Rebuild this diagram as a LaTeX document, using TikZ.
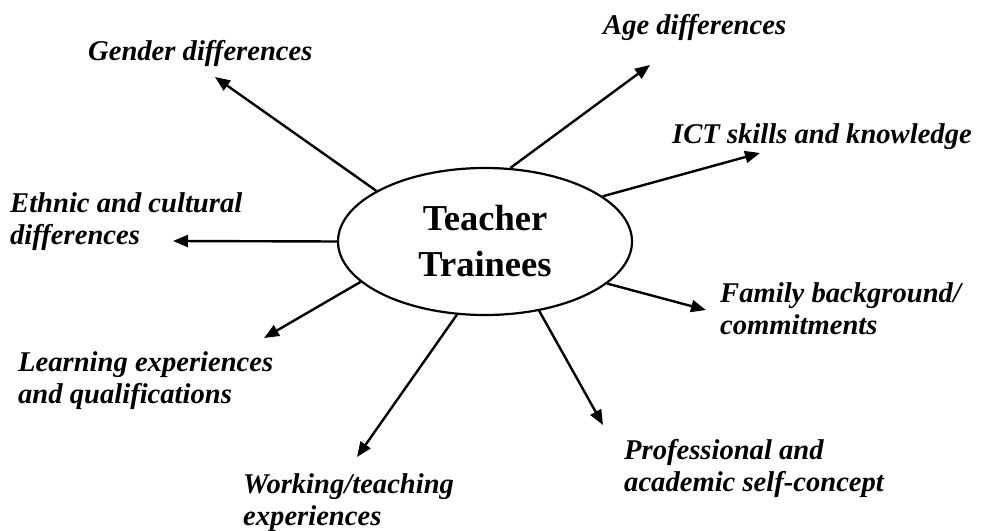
\documentclass[tikz,border=0pt]{standalone}
\usepackage{fontspec}
\setmainfont{Liberation Serif}
\usetikzlibrary{shapes.geometric}
\usetikzlibrary{arrows.meta}

\tikzset{
  factor/.style={inner sep=0pt,anchor=base west,align=left,
    font=\fontsize{28.6bp}{32bp}\selectfont\bfseries\itshape},
  spoke/.style={line width=2.4bp,-{Triangle[length=15bp,width=12bp]}}
}

\begin{document}
\begin{tikzpicture}[x=1bp,y=-1bp]
\useasboundingbox (0,0) rectangle (992,531);

% Teacher Trainees
\node[ellipse,draw,line width=2.2bp,minimum width=294bp,minimum height=147bp,
  align=center,font=\fontsize{36.5bp}{46bp}\selectfont\bfseries] (tt) at (485,241.5) {Teacher\\Trainees};

% labels (base = last line)
\node[factor] (gender) at (88,61) {Gender differences};
\node[factor] (age) at (603,35) {Age differences};
\node[factor] (ict) at (672,144) {ICT skills and knowledge};
\node[factor] (ethnic) at (10,245) {Ethnic and cultural\\differences};
\node[factor] (family) at (720,335) {Family background/\\commitments};
\node[factor] (learning) at (18,403) {Learning experiences\\and qualifications};
\node[factor] (prof) at (624,491) {Professional and\\academic self-concept};
\node[factor] (work) at (243,525) {Working/teaching\\experiences};

% arrow tips
\coordinate (cgender) at (215,77);
\coordinate (cage) at (650,65);
\coordinate (cict) at (760,153);
\coordinate (cethnic) at (173,241);
\coordinate (clearning) at (264,338);
\coordinate (cwork) at (357,457);
\coordinate (cprof) at (603,425);
\coordinate (cfamily) at (706,310);

\draw[spoke] (tt.155) -- (cgender);
\draw[spoke] (tt.71.6) -- (cage);
\draw[spoke] (tt.21.8) -- (cict);
\draw[spoke] (tt.180) -- (cethnic);
\draw[spoke] (tt.198.3) -- (clearning);
\draw[spoke] (tt.249.5) -- (cwork);
\draw[spoke] (tt.308.4) -- (cprof);
\draw[spoke] (tt.341.6) -- (cfamily);
\end{tikzpicture}
\end{document}
